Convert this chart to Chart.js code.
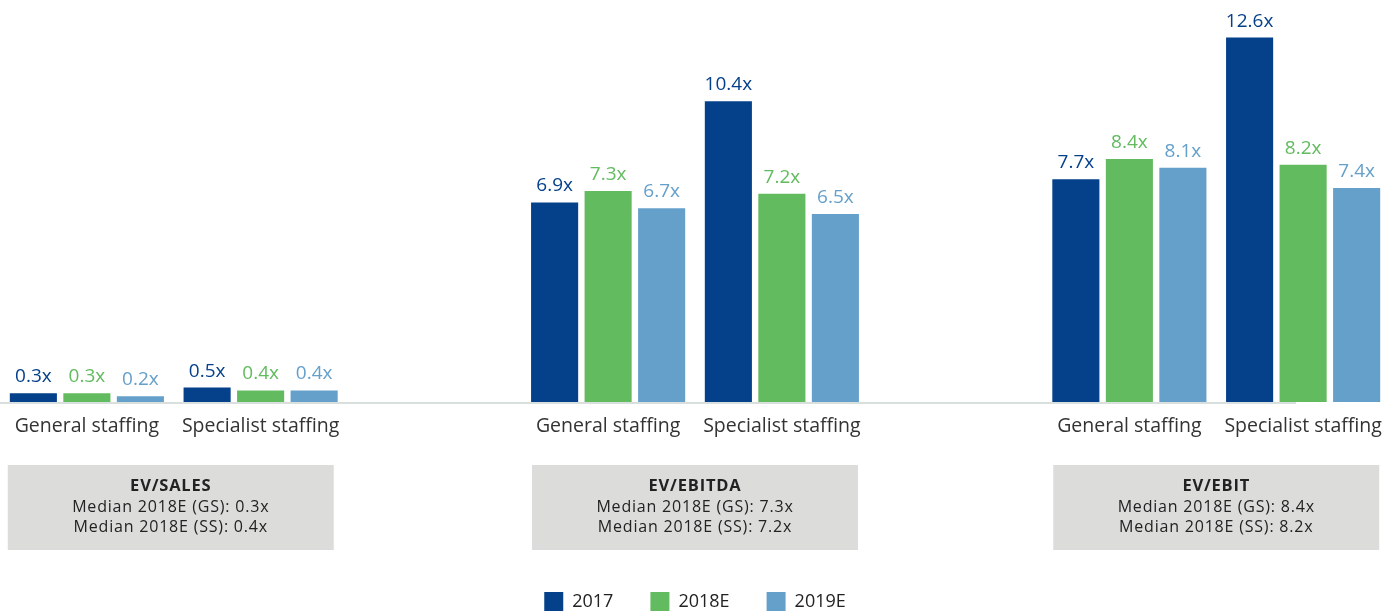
<!DOCTYPE html>
<html>
<head>
<meta charset="utf-8">
<script src="https://cdn.jsdelivr.net/npm/chart.js@4/dist/chart.umd.min.js"></script>
<style>
html,body{margin:0;padding:0;background:#fff;overflow:hidden;width:1397px;height:612px;}
canvas{display:block;}
</style>
</head>
<body>
<canvas id="c" width="1397" height="621"></canvas>
<script>
// ---- data ----
const categories = ['General staffing','Specialist staffing','','General staffing','Specialist staffing','','General staffing','Specialist staffing'];
const seriesNames = ['2017','2018E','2019E'];
const values2017  = [0.3, 0.5, null, 6.9, 10.4, null, 7.7, 12.6];
const values2018E = [0.3, 0.4, null, 7.3, 7.2,  null, 8.4, 8.2];
const values2019E = [0.2, 0.4, null, 6.7, 6.5,  null, 8.1, 7.4];
const metricNames = ['EV/SALES','EV/EBITDA','EV/EBIT'];
const metricGroups = [[0,1],[3,4],[6,7]];
const medianGS = [0.3, 7.3, 8.4];
const medianSS = [0.4, 7.2, 8.2];

const colors = ['#05418A','#63BB60','#65A0CB'];
const FONT = '"Open Sans", Lato, sans-serif';

const valueLabels = {
  id:'valueLabels',
  afterDatasetsDraw(chart){
    const ctx = chart.ctx;
    ctx.save();
    ctx.font = '19px ' + FONT;
    ctx.textAlign = 'center';
    ctx.textBaseline = 'alphabetic';
    chart.data.datasets.forEach((ds, di) => {
      const meta = chart.getDatasetMeta(di);
      meta.data.forEach((el, i) => {
        const v = ds.data[i];
        if (v === null || v === undefined) return;
        ctx.fillStyle = ds.backgroundColor;
        ctx.fillText(v.toFixed(1) + 'x', el.x, el.y - 11);
      });
    });
    ctx.restore();
  }
};

const decorations = {
  id:'decorations',
  afterDatasetsDraw(chart){
    const ctx = chart.ctx;
    const xs = chart.scales.x;
    const bottom = chart.chartArea.bottom;
    ctx.save();
    // baseline
    ctx.strokeStyle = '#d9dfdc';
    ctx.lineWidth = 2;
    ctx.beginPath();
    ctx.moveTo(chart.chartArea.left, bottom + 1);
    ctx.lineTo(xs.getPixelForValue(7) - 7, bottom + 1);
    ctx.stroke();
    // summary boxes
    metricGroups.forEach((g, k) => {
      const cx = (xs.getPixelForValue(g[0]) + xs.getPixelForValue(g[1])) / 2 - (k === 0 ? 3 : 0);
      const w = 326;
      const top = bottom + 63, h = 85;
      ctx.fillStyle = '#dcdddb';
      ctx.fillRect(cx - w/2, top, w, h);
      ctx.fillStyle = '#222222';
      ctx.textAlign = 'center';
      ctx.textBaseline = 'alphabetic';
      try { ctx.letterSpacing = '0.8px'; } catch(e) {}
      ctx.font = 'bold 16.5px ' + FONT;
      ctx.fillText(metricNames[k], cx, bottom + 89);
      ctx.font = '16px ' + FONT;
      ctx.fillText('Median 2018E (GS): ' + medianGS[k].toFixed(1) + 'x', cx, bottom + 110);
      ctx.fillText('Median 2018E (SS): ' + medianSS[k].toFixed(1) + 'x', cx, bottom + 130);
      try { ctx.letterSpacing = '0px'; } catch(e) {}
    });
    ctx.restore();
  }
};

new Chart(document.getElementById('c'), {
  type:'bar',
  data:{
    labels: categories,
    datasets:[
      {label:seriesNames[0], data:values2017, backgroundColor:colors[0]},
      {label:seriesNames[1], data:values2018E, backgroundColor:colors[1]},
      {label:seriesNames[2], data:values2019E, backgroundColor:colors[2]}
    ]
  },
  options:{
    responsive:false,
    animation:false,
    devicePixelRatio:1,
    categoryPercentage:0.924,
    barPercentage:0.88,
    layout:{padding:{left:0,right:7,top:0,bottom:0}},
    plugins:{
      legend:{
        position:'bottom',
        labels:{
          boxWidth:19, boxHeight:19, padding:37,
          color:'#222222',
          font:{family:FONT, size:18}
        }
      },
      tooltip:{enabled:false}
    },
    scales:{
      x:{
        grid:{display:false},
        border:{display:false},
        ticks:{color:'#333333', padding:5, font:{family:FONT, size:19.5}, maxRotation:0, autoSkip:false},
        afterFit(s){ s.height = 153; }
      },
      y:{display:false, min:0, max:13.9}
    }
  },
  plugins:[decorations, valueLabels]
});
</script>
</body>
</html>
